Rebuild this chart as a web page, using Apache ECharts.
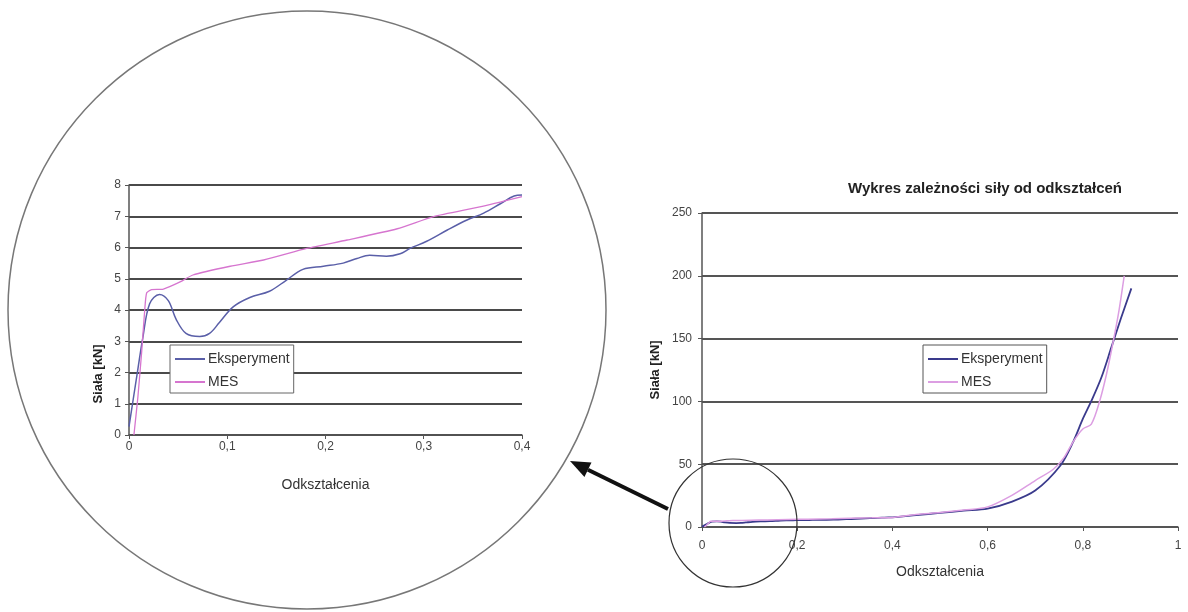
<!DOCTYPE html>
<html>
<head>
<meta charset="utf-8">
<script src="https://cdn.jsdelivr.net/npm/echarts@6/dist/echarts.min.js"></script>
<style>
html,body{margin:0;padding:0;background:#fff;}
#chart{width:1188px;height:612px;}
</style>
</head>
<body>
<div id="chart"></div>
<script>
// ---- data: zoomed region (0 - 0.4) ----
var zoomStrainExp = [0, 0.009, 0.014, 0.021, 0.031, 0.04, 0.048, 0.058, 0.072, 0.082, 0.092, 0.106, 0.123, 0.143, 0.16, 0.177, 0.198, 0.218, 0.232, 0.245, 0.262, 0.276, 0.286, 0.303, 0.324, 0.344, 0.361, 0.378, 0.392, 0.4];
var zoomForceExp  = [0.27, 2.1, 3.1, 4.2, 4.5, 4.3, 3.7, 3.25, 3.15, 3.25, 3.6, 4.1, 4.4, 4.6, 4.95, 5.3, 5.4, 5.5, 5.65, 5.75, 5.72, 5.8, 5.97, 6.2, 6.56, 6.88, 7.1, 7.4, 7.65, 7.68];
var zoomStrainMes = [0.005, 0.009, 0.013, 0.016, 0.018, 0.023, 0.035, 0.052, 0.065, 0.103, 0.137, 0.181, 0.222, 0.273, 0.31, 0.357, 0.4];
var zoomForceMes  = [0, 1.2, 2.7, 4.0, 4.55, 4.65, 4.67, 4.9, 5.12, 5.4, 5.6, 5.97, 6.24, 6.6, 6.99, 7.3, 7.63];
// ---- data: remainder of full curve (0.4 - 0.9) ----
var fullStrainExp = [0.45, 0.5, 0.55, 0.6, 0.65, 0.7, 0.753, 0.78, 0.8, 0.82, 0.84, 0.86, 0.88, 0.902];
var fullForceExp  = [9.5, 11.2, 13, 14.6, 20, 29, 49, 68, 86, 102, 120, 143, 166, 190];
var fullStrainMes = [0.45, 0.5, 0.55, 0.6, 0.65, 0.7, 0.738, 0.76, 0.78, 0.8, 0.818, 0.836, 0.85, 0.862, 0.875, 0.887];
var fullForceMes  = [10, 11.5, 13.5, 16, 25, 37, 46, 55, 68, 78, 82, 101, 122, 144, 170, 200];
// ---- labels ----
var seriesNames = ['Eksperyment', 'MES'];
var chartTitle = 'Wykres zależności siły od odkształceń';
var xName = 'Odkształcenia';
var yName = 'Siała [kN]';

function pairs(xs, ys){ return xs.map(function(x,i){ return [x, ys[i]]; }); }
function commaFmt(v){ return v === 0 ? '0' : String(+v.toFixed(2)).replace('.', ','); }

var FONT = '"Liberation Sans", Arial, sans-serif';
var cExp = '#5a5fa8', cMes = '#d675cf';
var cExpR = '#3a3a8c', cMesR = '#dc9ee2';

var chart = echarts.init(document.getElementById('chart'));

// arrow geometry
var tip = [570, 461], tail = [668, 509];
var dx = tip[0]-tail[0], dy = tip[1]-tail[1], L = Math.sqrt(dx*dx+dy*dy);
var ux = dx/L, uy = dy/L, px = -uy, py = ux;
var hl = 20, hw = 8;
var bx = tip[0]-hl*ux, by = tip[1]-hl*uy;

var axisLbl = {color:'#444', fontSize:12, fontFamily:FONT};
var legendCommon = {orient:'vertical', backgroundColor:'#fff', borderWidth:1,
  padding:[7,4,4,5], itemGap:9, itemWidth:30, itemHeight:2, icon:'rect',
  textStyle:{fontSize:14, color:'#333', fontFamily:FONT, padding:[0,0,0,-2]}};

chart.setOption({
  animation:false,
  backgroundColor:'#fff',
  title:{text:chartTitle, left:980, top:176, textAlign:'center',
    textStyle:{fontSize:15, fontWeight:'bold', color:'#222', fontFamily:FONT}},
  legend:[
    Object.assign({}, legendCommon, {data:[seriesNames[0], seriesNames[1]], left:170, top:345, borderColor:'#666'}),
    Object.assign({}, legendCommon, {data:[seriesNames[0]+' ', seriesNames[1]+' '], left:923, top:345, borderColor:'#555',
      formatter:function(n){return n.trim();}})
  ],
  grid:[
    {left:129, top:185, width:393, height:250},
    {left:702, top:213, width:476, height:314}
  ],
  xAxis:[
    {type:'value', gridIndex:0, min:0, max:0.4, interval:0.1,
     name:xName, nameLocation:'middle', nameGap:43,
     nameTextStyle:{fontSize:14, color:'#333', fontFamily:FONT},
     axisLine:{onZero:false, lineStyle:{color:'#555', width:1.5}},
     axisTick:{show:true, length:4, lineStyle:{color:'#555'}},
     axisLabel:Object.assign({margin:6, formatter:commaFmt}, axisLbl),
     splitLine:{show:false}},
    {type:'value', gridIndex:1, min:0, max:1, interval:0.2,
     name:xName, nameLocation:'middle', nameGap:38,
     nameTextStyle:{fontSize:14, color:'#333', fontFamily:FONT},
     axisLine:{onZero:false, lineStyle:{color:'#555', width:1.5}},
     axisTick:{show:true, length:4, lineStyle:{color:'#555'}},
     axisLabel:Object.assign({margin:13, formatter:commaFmt}, axisLbl),
     splitLine:{show:false}}
  ],
  yAxis:[
    {type:'value', gridIndex:0, min:0, max:8, interval:1,
     axisLine:{show:true, lineStyle:{color:'#555', width:1.5}},
     axisTick:{show:true, length:4, lineStyle:{color:'#555'}},
     axisLabel:Object.assign({margin:8}, axisLbl),
     splitLine:{show:true, lineStyle:{color:'#4a4a4a', width:2}}},
    {type:'value', gridIndex:1, min:0, max:250, interval:50,
     axisLine:{show:true, lineStyle:{color:'#555', width:1.5}},
     axisTick:{show:true, length:4, lineStyle:{color:'#555'}},
     axisLabel:Object.assign({margin:10}, axisLbl),
     splitLine:{show:true, lineStyle:{color:'#555', width:2}}}
  ],
  series:[
    {name:seriesNames[0], type:'line', xAxisIndex:0, yAxisIndex:0, symbol:'none', smooth:0.35,
     lineStyle:{color:cExp, width:1.5}, itemStyle:{color:cExp}, data:pairs(zoomStrainExp, zoomForceExp), z:3},
    {name:seriesNames[1], type:'line', xAxisIndex:0, yAxisIndex:0, symbol:'none', smooth:0.2,
     lineStyle:{color:cMes, width:1.3}, itemStyle:{color:cMes}, data:pairs(zoomStrainMes, zoomForceMes), z:4},
    {name:seriesNames[0]+' ', type:'line', xAxisIndex:1, yAxisIndex:1, symbol:'none', smooth:0.3,
     lineStyle:{color:cExpR, width:1.8}, itemStyle:{color:cExpR},
     data:pairs(zoomStrainExp.concat(fullStrainExp), zoomForceExp.concat(fullForceExp)), z:3},
    {name:seriesNames[1]+' ', type:'line', xAxisIndex:1, yAxisIndex:1, symbol:'none', smooth:0.3,
     lineStyle:{color:cMesR, width:1.5}, itemStyle:{color:cMesR},
     data:pairs(zoomStrainMes.concat(fullStrainMes), zoomForceMes.concat(fullForceMes)), z:4}
  ],
  graphic:[
    {type:'ellipse', shape:{cx:307, cy:310, rx:299, ry:299}, style:{fill:'none', stroke:'#777', lineWidth:1.5}, z:1, silent:true},
    {type:'circle', shape:{cx:733, cy:523, r:64}, style:{fill:'none', stroke:'#333', lineWidth:1.2}, z:100, silent:true},
    {type:'line', shape:{x1:tail[0], y1:tail[1], x2:bx, y2:by}, style:{stroke:'#111', lineWidth:4}, z:100, silent:true},
    {type:'polygon', shape:{points:[tip, [bx+hw*px, by+hw*py], [bx-hw*px, by-hw*py]]}, style:{fill:'#111'}, z:100, silent:true},
    {type:'text', x:98, y:374, rotation:Math.PI/2, style:{text:yName, fill:'#222', font:'bold 13px "Liberation Sans", Arial, sans-serif', textAlign:'center', textVerticalAlign:'middle'}, z:100},
    {type:'text', x:655, y:370, rotation:Math.PI/2, style:{text:yName, fill:'#222', font:'bold 13px "Liberation Sans", Arial, sans-serif', textAlign:'center', textVerticalAlign:'middle'}, z:100}
  ]
});
</script>
</body>
</html>
